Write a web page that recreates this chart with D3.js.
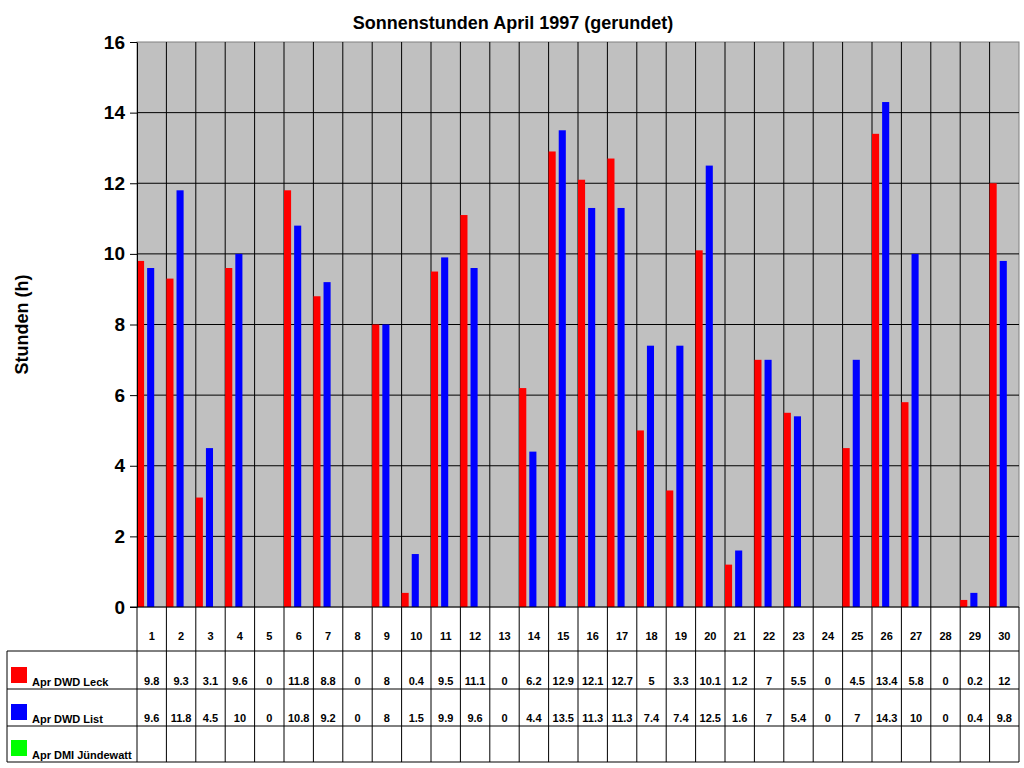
<!DOCTYPE html>
<html>
<head>
<meta charset="utf-8">
<script src="https://cdn.jsdelivr.net/npm/d3@7"></script>
<style>
  body { margin: 0; background: #fff; }
  text { font-family: Arial, "Liberation Sans", sans-serif; font-weight: bold; fill: #000; }
</style>
</head>
<body>
<div id="chart"></div>
<script>
const days = d3.range(1, 31);
const leck = [9.8, 9.3, 3.1, 9.6, 0, 11.8, 8.8, 0, 8, 0.4, 9.5, 11.1, 0, 6.2, 12.9, 12.1, 12.7, 5, 3.3, 10.1, 1.2, 7, 5.5, 0, 4.5, 13.4, 5.8, 0, 0.2, 12];
const list = [9.6, 11.8, 4.5, 10, 0, 10.8, 9.2, 0, 8, 1.5, 9.9, 9.6, 0, 4.4, 13.5, 11.3, 11.3, 7.4, 7.4, 12.5, 1.6, 7, 5.4, 0, 7, 14.3, 10, 0, 0.4, 9.8];
const juendewatt = [];
const seriesNames = ['Apr DWD Leck', 'Apr DWD List', 'Apr DMI Jündewatt'];
const seriesColors = ['#ff0000', '#0000ff', '#00ff00'];
const yTicks = [0, 2, 4, 6, 8, 10, 12, 14, 16];

function drawChart(chartId, width, height) {
    const margin = { top: 42, left: 137, right: 5, bottom: 161 };
    const graphWidth = width - margin.left - margin.right;
    const graphHeight = height - margin.top - margin.bottom;
    const seriesData = [leck, list, juendewatt];

    const svg = d3.select(`#${chartId}`).append('svg').attr('width', width).attr('height', height);

    svg.append('text')
        .attr('x', 513).attr('y', 29)
        .attr('text-anchor', 'middle')
        .attr('font-size', 18)
        .text('Sonnenstunden April 1997 (gerundet)');

    const graph = svg.append('g').attr('transform', `translate(${margin.left}, ${margin.top})`);

    const xScale = d3.scaleBand().domain(days).range([0, graphWidth]);
    const inner = d3.scaleBand().domain([0, 1, 2]).range([0, xScale.bandwidth() * 0.93]).paddingInner(0.3);
    const yScale = d3.scaleLinear().domain([0, 16]).range([graphHeight, 0]);

    graph.append('rect')
        .attr('width', graphWidth).attr('height', graphHeight)
        .attr('fill', '#c0c0c0').attr('stroke', '#808080');

    graph.append('g').selectAll('line').data(yTicks.slice(1, -1)).join('line')
        .attr('x1', 0).attr('x2', graphWidth)
        .attr('y1', (d) => yScale(d)).attr('y2', (d) => yScale(d))
        .attr('stroke', '#000');

    graph.append('g').selectAll('line').data(days.slice(1)).join('line')
        .attr('x1', (d) => xScale(d)).attr('x2', (d) => xScale(d))
        .attr('y1', 0).attr('y2', graphHeight)
        .attr('stroke', '#000');

    seriesData.forEach((values, si) => {
        graph.append('g').attr('fill', seriesColors[si])
            .selectAll('rect').data(values).join('rect')
            .attr('x', (d, i) => xScale(days[i]) + inner(si))
            .attr('width', inner.bandwidth())
            .attr('y', (d) => yScale(d))
            .attr('height', (d) => graphHeight - yScale(d));
    });

    const yAxis = graph.append('g')
        .call(d3.axisLeft(yScale).tickValues(yTicks).tickSize(7).tickSizeOuter(0).tickFormat(d3.format('d')));
    yAxis.select('.domain').attr('stroke', '#000');
    yAxis.selectAll('.tick line').attr('stroke', '#000');
    yAxis.selectAll('.tick text')
        .attr('x', -12)
        .attr('font-size', 19)
        .attr('font-family', 'Arial, "Liberation Sans", sans-serif')
        .attr('font-weight', 'bold');

    svg.append('text')
        .attr('transform', `translate(28, ${margin.top + graphHeight / 2}) rotate(-90)`)
        .attr('text-anchor', 'middle')
        .attr('font-size', 18)
        .text('Stunden (h)');

    // data table under the chart
    const table = svg.append('g').attr('transform', `translate(0, ${margin.top + graphHeight})`);
    const rowTops = [0, 44, 82, 119, 155];
    const tableLeft = 7;
    const right = margin.left + graphWidth;

    table.append('line')
        .attr('x1', margin.left - 7).attr('x2', right)
        .attr('y1', 0).attr('y2', 0).attr('stroke', '#000');
    table.append('g').selectAll('line').data(rowTops.slice(1)).join('line')
        .attr('x1', tableLeft).attr('x2', right)
        .attr('y1', (d) => d).attr('y2', (d) => d)
        .attr('stroke', '#000');
    table.append('g').selectAll('line').data(days.concat([31])).join('line')
        .attr('x1', (d) => (d === 31 ? right : margin.left + xScale(d)))
        .attr('x2', (d) => (d === 31 ? right : margin.left + xScale(d)))
        .attr('y1', 0).attr('y2', rowTops[4])
        .attr('stroke', '#000');
    table.append('line')
        .attr('x1', tableLeft).attr('x2', tableLeft)
        .attr('y1', rowTops[1]).attr('y2', rowTops[4]).attr('stroke', '#000');

    table.append('g').selectAll('text').data(days).join('text')
        .attr('x', (d) => margin.left + xScale(d) + xScale.bandwidth() / 2)
        .attr('y', 33)
        .attr('text-anchor', 'middle')
        .attr('font-size', 11)
        .text((d) => d);

    seriesData.forEach((values, si) => {
        const rowBottom = rowTops[si + 2];
        table.append('rect')
            .attr('x', 11).attr('y', rowBottom - 22)
            .attr('width', 16).attr('height', 16)
            .attr('fill', seriesColors[si]);
        table.append('text')
            .attr('x', 32).attr('y', rowBottom - 3)
            .attr('font-size', 11)
            .text(seriesNames[si]);
        table.append('g').selectAll('text').data(values).join('text')
            .attr('x', (d, i) => margin.left + xScale(days[i]) + xScale.bandwidth() / 2)
            .attr('y', rowBottom - 4)
            .attr('text-anchor', 'middle')
            .attr('font-size', 11)
            .text((d) => d);
    });
}

drawChart('chart', 1024, 768);
</script>
</body>
</html>
